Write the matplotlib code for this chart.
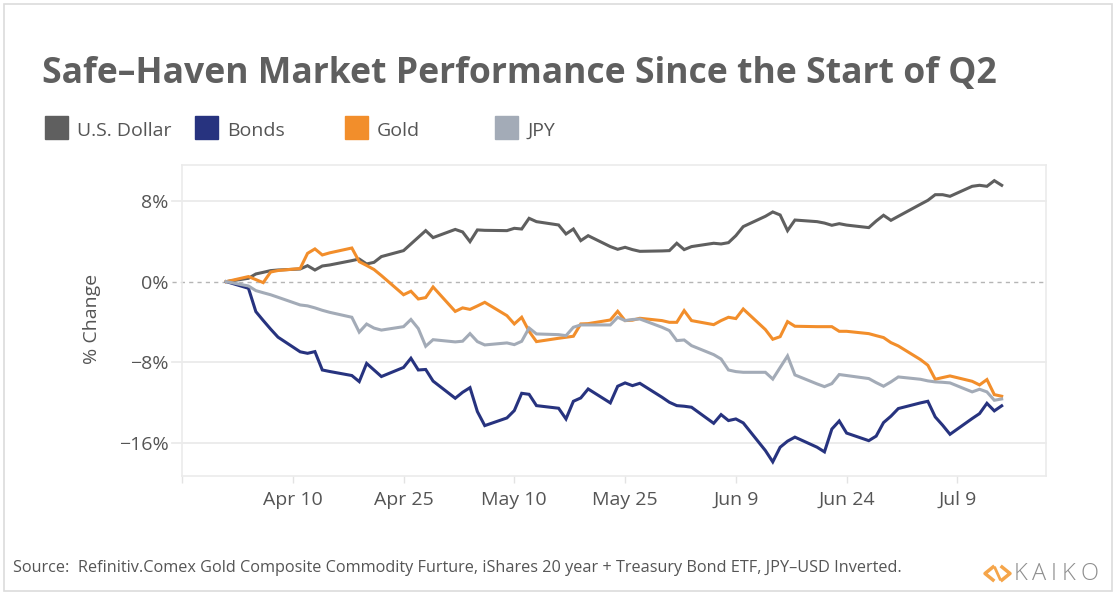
import matplotlib
matplotlib.use("Agg")
import matplotlib.pyplot as plt
import pandas as pd
from matplotlib.patches import Rectangle
from matplotlib.lines import Line2D

plt.rcParams['font.family'] = ['Open Sans', 'DejaVu Sans']

# trading days, start of Q2 to mid July
dates = pd.bdate_range("2022-04-01", "2022-07-15")

usd = [0, 0.33, 0.76, 0.92, 1.09, 1.15, 1.25, 1.58, 1.15, 1.55, 1.65,
       2.08, 2.24, 1.75, 1.91, 2.48, 3.07, 3.73, 4.39, 5.05, 4.36,
       5.17, 4.92, 3.96, 5.12, 5.08, 5.05, 5.28, 5.21, 6.27, 5.94,
       5.61, 4.72, 5.21, 4.06, 4.55, 3.47, 3.2, 3.4, 3.17, 3.0,
       3.04, 3.07, 3.8, 3.17, 3.47, 3.8, 3.73, 3.86, 4.55, 5.45,
       6.47, 6.9, 6.6, 5.05, 6.1, 5.94, 5.8, 5.58, 5.74, 5.6,
       5.35, 6.0, 6.57, 6.07, 6.47, 7.66, 8.05, 8.61, 8.61, 8.45,
       9.44, 9.54, 9.44, 10.0, 9.54]
bonds = [0, -0.66, -2.97, -3.85, -4.7, -5.5, -6.95, -7.1, -6.93, -8.75, -8.9,
         -9.3, -9.9, -8.1, -8.75, -9.4, -8.5, -7.59, -8.75, -8.7, -9.85,
         -11.55, -10.96, -10.5, -12.87, -14.26, -13.5, -12.77, -11.06, -11.16, -12.28,
         -12.54, -13.6, -11.85, -11.52, -10.63, -12.01, -10.36, -10.03, -10.3, -10.07,
         -11.45, -11.95, -12.28, -12.34, -12.44, -14.03, -13.17, -13.76, -13.6, -13.99,
         -16.73, -17.85, -16.4, -15.8, -15.4, -16.4, -16.86, -14.6, -13.8, -15.0,
         -15.75, -15.3, -13.96, -13.33, -12.57, -12.01, -11.85, -13.4, -14.22, -15.12,
         -13.56, -13.07, -12.05, -12.8, -12.3]
gold = [0, 0.5, 0.2, -0.1, 0.95, 1.1, 1.3, 2.8, 3.24, 2.64, 2.85,
        3.33, 1.98, 1.6, 1.2, 0.6, -1.3, -0.95, -1.72, -1.58, -0.53,
        -2.95, -2.6, -2.75, -2.41, -2.05, -3.37, -4.19, -3.53, -4.92, -5.94,
        -5.61, -5.51, -5.41, -4.19, -4.16, -3.8, -2.94, -3.86, -3.82, -3.63,
        -3.86, -4.03, -4.03, -2.87, -3.86, -4.26, -3.86, -3.53, -3.66, -2.71,
        -4.75, -5.71, -5.45, -3.96, -4.42, -4.46, -4.46, -4.46, -4.92, -4.92,
        -5.15, -5.35, -5.54, -6.04, -6.37, -7.72, -8.28, -9.67, -9.5, -9.34,
        -9.87, -10.23, -9.7, -11.19, -11.35]
jpy = [0, -0.43, -0.89, -1.1, -1.3, -1.55, -2.31, -2.4, -2.6, -2.84, -3.04,
       -3.53, -5.0, -4.2, -4.6, -4.8, -4.46, -3.75, -4.65, -6.4, -5.75,
       -5.97, -5.9, -5.15, -5.94, -6.27, -6.07, -6.24, -5.91, -4.59, -5.18,
       -5.25, -5.35, -4.52, -4.29, -4.29, -4.29, -3.53, -3.86, -3.75, -3.7,
       -4.52, -4.85, -5.84, -5.78, -6.34, -7.23, -7.66, -8.75, -8.91, -8.98,
       -8.98, -9.65, -8.5, -7.36, -9.24, -10.13, -10.4, -10.1, -9.2, -9.3,
       -9.6, -10.0, -10.36, -9.93, -9.44, -9.67, -9.83, -9.93, -9.97, -10.03,
       -10.92, -10.66, -10.92, -11.75, -11.62]

names = ["U.S. Dollar", "Bonds", "Gold", "JPY"]
colors = ["#5f5f5f", "#27337f", "#f28e2b", "#a3abb7"]

tick_dates = pd.date_range("2022-03-26", periods=8, freq="15D")
tick_labels = ["", "Apr 10", "Apr 25", "May 10", "May 25", "Jun 9", "Jun 24", "Jul 9"]
y_ticks = [8, 0, -8, -16]
y_labels = ["8%", "0%", "\u22128%", "\u221216%"]

W, H = 1116, 596
fig = plt.figure(figsize=(W / 100, H / 100), dpi=100)
ax = fig.add_axes([182 / W, 1 - 476 / H, (1046 - 182) / W, (476 - 165) / H])

# gridlines (they run a bit past the left edge like ticks)
for y in [8, -8, -16]:
    ax.plot([-0.011, 1], [y, y], transform=ax.get_yaxis_transform(),
            color="#ebebeb", lw=1.3, clip_on=False, zorder=1)
ax.plot([-0.011, 1], [0, 0], transform=ax.get_yaxis_transform(),
        color="#b5b5b5", lw=1, ls=(0, (3, 3)), clip_on=False, zorder=1)

series = [usd, bonds, gold, jpy]
for vals, c in zip(series, colors):
    ax.plot(dates, vals, color=c, lw=2.2, solid_joinstyle="miter", zorder=3)

ax.set_xlim(pd.Timestamp("2022-03-26"), pd.Timestamp("2022-07-21"))
ax.set_ylim(-19.25, 11.55)
ax.set_xticks(tick_dates)
ax.set_xticklabels(tick_labels)
ax.set_yticks(y_ticks)
ax.set_yticklabels(y_labels)
ax.tick_params(axis="y", length=0, pad=9.5, labelsize=14, labelcolor="#555555")
ax.tick_params(axis="x", length=5, width=1, color="#e3e3e3", pad=6,
               labelsize=14, labelcolor="#555555")
for s in ax.spines.values():
    s.set_color("#ebebeb")
    s.set_linewidth(1.2)

fig.text(92 / W, 1 - 319 / H, "% Change", rotation=90, ha="center", va="center",
         fontsize=14, color="#555555")

fig.text(42 / W, 1 - 83 / H, "Safe\u2013Haven Market Performance Since the Start of Q2",
         ha="left", va="baseline", fontsize=25.6, fontweight="bold", color="#5f5f5f")

# legend
for i, (n, c) in enumerate(zip(names, colors)):
    x0 = 45 + 150 * i
    fig.add_artist(Rectangle((x0 / W, 1 - 139 / H), 23 / W, 23 / H,
                             transform=fig.transFigure, color=c))
    fig.text((x0 + 32) / W, 1 - 136 / H, n, ha="left", va="baseline",
             fontsize=14, color="#555555")

fig.text(13 / W, 1 - 572 / H,
         "Source:  Refinitiv.Comex Gold Composite Commodity Furture, iShares 20 year + "
         "Treasury Bond ETF, JPY\u2013USD Inverted.",
         ha="left", va="baseline", fontsize=11.7, color="#555555")

# kaiko logo
org = "#f5a54a"
for xs in ([993, 985, 993], [1002, 1010, 1002]):
    fig.add_artist(Line2D([x / W for x in xs], [1 - 567 / H, 1 - 573.5 / H, 1 - 580 / H],
                          transform=fig.transFigure, color=org, lw=2.5))
fig.add_artist(Line2D([995 / W, 1000 / W], [1 - 568 / H, 1 - 579 / H],
                      transform=fig.transFigure, color=org, lw=2))
for ch, xc in zip("KAIKO", [1020, 1039, 1054, 1068, 1089]):
    fig.text(xc / W, 1 - 580 / H, ch, ha="center", va="baseline",
             fontsize=17, fontweight="light", color="#8e8e8e")

# outer frame
fig.add_artist(Rectangle((4 / W, 5 / H), 1108 / W, 587 / H, transform=fig.transFigure,
                         fill=False, edgecolor="#dcdcdc", lw=1.2))

fig.savefig("out.png", dpi=100)
